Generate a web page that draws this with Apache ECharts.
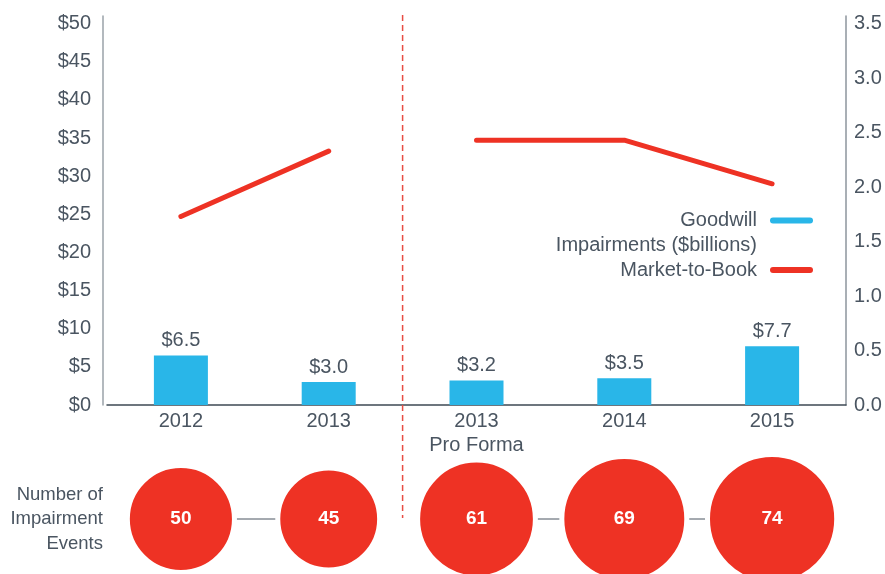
<!DOCTYPE html>
<html>
<head>
<meta charset="utf-8">
<script src="https://cdn.jsdelivr.net/npm/echarts@6/dist/echarts.min.js"></script>
<style>
html,body{margin:0;padding:0;background:#fff;}
#chart{width:885px;height:574px;}
</style>
</head>
<body>
<div id="chart"></div>
<script>
const categories = ['2012', '2013', '2013\nPro Forma', '2014', '2015'];
const goodwillImpairments = [6.5, 3.0, 3.2, 3.5, 7.7];
const marketToBookActual = [1.73, 2.33, '-', '-', '-'];
const marketToBookProForma = ['-', '-', 2.43, 2.43, 2.03];
const impairmentEvents = [50, 45, 61, 69, 74];
const leftTicks = { min: 0, max: 51, interval: 5 };
const rightTicks = { min: 0, max: 3.57, interval: 0.5 };

const FONT = "'Liberation Sans', Arial, sans-serif";
const TEXT = '#4a5561';
const BLUE = '#29b6e8';
const RED = '#ee3224';

const chart = echarts.init(document.getElementById('chart'), null, { renderer: 'canvas' });

const bubbleData = impairmentEvents.map((v, i) => [i, 0, v]);
const capsule = 'path://M3,0 L40,0 A3,3 0 0 1 40,6 L3,6 A3,3 0 0 1 3,0 Z';

const option = {
  backgroundColor: '#fff',
  animation: false,
  textStyle: { fontFamily: FONT },
  grid: [
    { left: 107, right: 39, top: 16, bottom: 169 },
    { left: 107, right: 39, top: 509, height: 20 }
  ],
  legend: [
    {
      right: 67, top: 178, orient: 'vertical', align: 'right',
      itemWidth: 43, itemHeight: 6, icon: capsule,
      data: ['Goodwill Impairments ($billions)'],
      formatter: () => ' \nGoodwill\nImpairments ($billions)',
      textStyle: { fontFamily: FONT, fontSize: 20, color: TEXT, lineHeight: 25, padding: [0, 8, 0, 0] }
    },
    {
      right: 67, top: 255, orient: 'vertical', align: 'right',
      itemWidth: 43, itemHeight: 6, icon: capsule,
      data: ['Market-to-Book'],
      textStyle: { fontFamily: FONT, fontSize: 20, color: TEXT, padding: [0, 8, 0, 0] }
    }
  ],
  xAxis: [
    {
      type: 'category', gridIndex: 0, data: categories,
      axisLine: { lineStyle: { color: '#3e4a54', width: 1.5 } },
      axisTick: { show: false },
      axisLabel: { color: TEXT, fontSize: 20, fontFamily: FONT, lineHeight: 24, margin: 4 }
    },
    {
      type: 'category', gridIndex: 1, data: categories, show: false
    }
  ],
  yAxis: [
    {
      type: 'value', gridIndex: 0, position: 'left', offset: 4,
      min: leftTicks.min, max: leftTicks.max, interval: leftTicks.interval,
      axisLine: { show: true, lineStyle: { color: '#9aa2a8', width: 1.5 } },
      axisTick: { show: false },
      splitLine: { show: false },
      axisLabel: { color: TEXT, fontSize: 20, fontFamily: FONT, margin: 12, showMaxLabel: false, formatter: v => '$' + v }
    },
    {
      type: 'value', gridIndex: 0, position: 'right',
      min: rightTicks.min, max: rightTicks.max, interval: rightTicks.interval,
      axisLine: { show: true, lineStyle: { color: '#8c959c', width: 1.5 } },
      axisTick: { show: false },
      splitLine: { show: false },
      axisLabel: { color: TEXT, fontSize: 20, fontFamily: FONT, margin: 8, showMaxLabel: false, formatter: v => v.toFixed(1) }
    },
    {
      type: 'value', gridIndex: 1, min: -1, max: 1, position: 'left', offset: 4,
      name: 'Number of\nImpairment\nEvents', nameLocation: 'middle', nameRotate: 0, nameGap: 0,
      nameTextStyle: { color: TEXT, fontSize: 18.5, fontFamily: FONT, lineHeight: 24.5, align: 'right', padding: [5, 0, 0, 0] },
      axisLine: { show: false }, axisTick: { show: false }, axisLabel: { show: false }, splitLine: { show: false }
    }
  ],
  series: [
    {
      name: 'Goodwill Impairments ($billions)', type: 'bar', xAxisIndex: 0, yAxisIndex: 0,
      data: goodwillImpairments, barWidth: 54,
      itemStyle: { color: BLUE },
      label: { show: true, position: 'top', distance: 5, color: TEXT, fontSize: 20, fontFamily: FONT, formatter: p => '$' + p.value.toFixed(1) }
    },
    {
      name: 'Market-to-Book', type: 'line', xAxisIndex: 0, yAxisIndex: 1,
      data: marketToBookActual, symbol: 'none', connectNulls: false,
      itemStyle: { color: RED },
      lineStyle: { color: RED, width: 5, cap: 'round', join: 'round' }
    },
    {
      name: 'Market-to-Book', type: 'line', xAxisIndex: 0, yAxisIndex: 1,
      data: marketToBookProForma, symbol: 'none', connectNulls: false,
      itemStyle: { color: RED },
      lineStyle: { color: RED, width: 5, cap: 'round', join: 'round' }
    },
    {
      name: 'connector-a', type: 'line', xAxisIndex: 1, yAxisIndex: 2, z: 1,
      data: [[0, 0], [1, 0]], symbol: 'none', silent: true,
      lineStyle: { color: '#4a5561', width: 1 }
    },
    {
      name: 'connector-b', type: 'line', xAxisIndex: 1, yAxisIndex: 2, z: 1,
      data: [[2, 0], [3, 0], [4, 0]], symbol: 'none', silent: true,
      lineStyle: { color: '#4a5561', width: 1 }
    },
    {
      name: 'Number of Impairment Events', type: 'scatter', xAxisIndex: 1, yAxisIndex: 2, z: 3,
      data: bubbleData,
      symbolSize: d => 14.44 * Math.sqrt(d[2]) + 5,
      itemStyle: { color: RED, opacity: 1, borderColor: '#ffffff', borderWidth: 5 },
      label: { show: true, position: 'inside', color: '#ffffff', fontSize: 19, fontWeight: 'bold', fontFamily: FONT, formatter: p => String(p.value[2]) }
    }
  ]
};

chart.setOption(option);

const xa = chart.convertToPixel({ xAxisIndex: 0 }, 1);
const xb = chart.convertToPixel({ xAxisIndex: 0 }, 2);
const xm = (xa + xb) / 2;
chart.setOption({
  graphic: [{
    type: 'line', silent: true, z: 10,
    shape: { x1: xm, y1: 15, x2: xm, y2: 518 },
    style: { stroke: '#e84c43', lineWidth: 1.5, lineDash: [6, 4] }
  }]
});
</script>
</body>
</html>
